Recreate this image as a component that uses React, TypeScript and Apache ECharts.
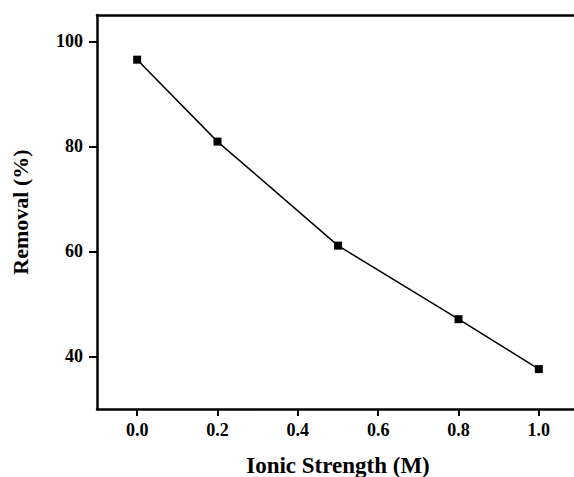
import React, { useEffect, useRef } from "react";
import * as echarts from "echarts";

const ionicStrength = [0.0, 0.2, 0.5, 0.8, 1.0];
const removal = [96.5, 80.9, 61.1, 47.1, 37.6];
const xTickValues = [0.0, 0.2, 0.4, 0.6, 0.8, 1.0];
const yTickValues = [40, 60, 80, 100];
const xTitle = "Ionic Strength (M)";
const yTitle = "Removal (%)";

const FONT = "'Liberation Serif', 'Times New Roman', serif";

export default function App() {
  const ref = useRef<HTMLDivElement>(null);
  useEffect(() => {
    if (!ref.current) return;
    const chart = echarts.init(ref.current, undefined, { renderer: "svg" });
    chart.setOption({
      animation: false,
      backgroundColor: "#ffffff",
      grid: {
        left: 97,
        top: 15,
        width: 482,
        height: 394,
        show: false,
        outerBoundsMode: "none",
        containLabel: false,
      },
      xAxis: [
        {
          type: "value",
          position: "bottom",
          min: -0.1,
          max: 1.1,
          name: xTitle,
          nameLocation: "middle",
          nameGap: 45,
          nameTextStyle: { fontFamily: FONT, fontWeight: "bold", fontSize: 23, color: "#000" },
          axisLine: { show: true, onZero: false, lineStyle: { color: "#000", width: 2.5 } },
          axisTick: {
            show: true,
            length: 7,
            inside: false,
            lineStyle: { color: "#000", width: 2 },
            customValues: xTickValues,
          },
          axisLabel: {
            margin: 12,
            fontFamily: FONT,
            fontWeight: "bold",
            fontSize: 18,
            color: "#000",
            customValues: xTickValues,
            formatter: (v: number) => v.toFixed(1),
          },
          splitLine: { show: false },
        },
        {
          type: "value",
          position: "top",
          min: -0.1,
          max: 1.1,
          axisLine: { show: true, onZero: false, lineStyle: { color: "#000", width: 2.5 } },
          axisTick: { show: false },
          axisLabel: { show: false },
          splitLine: { show: false },
        },
      ],
      yAxis: {
        type: "value",
        min: 30,
        max: 105,
        name: yTitle,
        nameLocation: "middle",
        nameGap: 66,
        nameTextStyle: { fontFamily: FONT, fontWeight: "bold", fontSize: 22, color: "#000" },
        axisLine: { show: true, onZero: false, lineStyle: { color: "#000", width: 2.5 } },
        axisTick: {
          show: true,
          length: 8,
          inside: false,
          lineStyle: { color: "#000", width: 2 },
          customValues: yTickValues,
        },
        axisLabel: {
          margin: 14,
          fontFamily: FONT,
          fontWeight: "bold",
          fontSize: 18,
          color: "#000",
          customValues: yTickValues,
        },
        splitLine: { show: false },
      },
      series: [
        {
          type: "line",
          xAxisIndex: 0,
          data: ionicStrength.map((x, i) => [x, removal[i]]),
          symbol: "rect",
          symbolSize: 8,
          lineStyle: { color: "#000", width: 1.5 },
          itemStyle: { color: "#000" },
        },
      ],
    });
    return () => chart.dispose();
  }, []);
  return (
    <div
      style={{ position: "absolute", left: 0, top: 0, width: 574, height: 477, overflow: "hidden" }}
    >
      <div ref={ref} style={{ width: 574, height: 477 }} />
    </div>
  );
}
